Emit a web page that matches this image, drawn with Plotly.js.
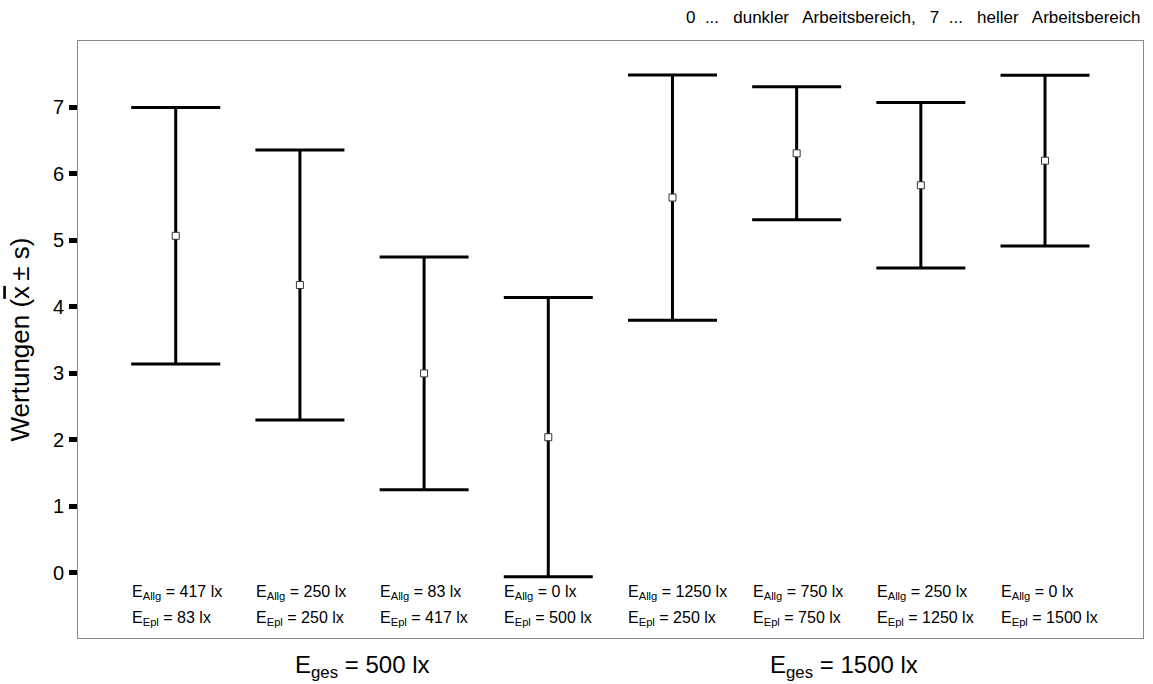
<!DOCTYPE html>
<html>
<head>
<meta charset="utf-8">
<script src="https://cdn.plot.ly/plotly-3.0.1.min.js"></script>
<style>
  html, body { margin: 0; padding: 0; background: #fff; }
  #chart { width: 1153px; height: 684px; }
</style>
</head>
<body>
<div id="chart"></div>
<script>
// Lighting conditions: position index, mean rating and standard deviation
var conditions = [1, 2, 3, 4, 5, 6, 7, 8];
var means = [5.07, 4.33, 3.00, 2.04, 5.645, 6.31, 5.83, 6.20];
var sds = [1.93, 2.03, 1.75, 2.10, 1.845, 1.00, 1.245, 1.285];

// General and workplace illuminance (lx) per condition
var eAllg = [417, 250, 83, 0, 1250, 750, 250, 0];
var eEpl = [83, 250, 417, 500, 250, 750, 1250, 1500];

// Total illuminance groups and where their labels sit along the condition axis
var groupTotals = [500, 1500];
var groupCenters = [2.5, 6.38];

var yTicks = [0, 1, 2, 3, 4, 5, 6, 7];
var scaleNote = '0  ...   dunkler   Arbeitsbereich,   7  ...   heller   Arbeitsbereich';

var FONT = 'Liberation Sans, Arial, Helvetica, sans-serif';

var trace = {
  x: conditions,
  y: means,
  type: 'scatter',
  mode: 'markers',
  marker: { symbol: 'square', size: 7, color: '#ffffff', line: { color: '#333333', width: 1 } },
  error_y: { type: 'data', array: sds, symmetric: true, color: '#000000', thickness: 3, width: 44.5 },
  hoverinfo: 'x+y',
  showlegend: false
};

var annotations = [];
conditions.forEach(function (c, i) {
  annotations.push({
    xref: 'x', yref: 'paper', x: c, y: 0.0754, xanchor: 'left', yanchor: 'middle', xshift: -46,
    text: 'E<sub>Allg</sub> = ' + eAllg[i] + ' lx', showarrow: false,
    font: { family: FONT, size: 16, color: '#000' }
  });
  annotations.push({
    xref: 'x', yref: 'paper', x: c, y: 0.0335, xanchor: 'left', yanchor: 'middle', xshift: -46,
    text: 'E<sub>Epl</sub> = ' + eEpl[i] + ' lx', showarrow: false,
    font: { family: FONT, size: 16, color: '#000' }
  });
});
groupTotals.forEach(function (t, i) {
  annotations.push({
    xref: 'x', yref: 'paper', x: groupCenters[i], y: -0.047, xanchor: 'center', yanchor: 'middle',
    text: 'E<sub>ges</sub> = ' + t + ' lx', showarrow: false,
    font: { family: FONT, size: 24, color: '#000' }
  });
});
annotations.push({
  xref: 'paper', yref: 'paper', x: 1, y: 1.04, xanchor: 'right', yanchor: 'middle',
  text: scaleNote, showarrow: false,
  font: { family: FONT, size: 17, color: '#000' }
});

var layout = {
  width: 1153,
  height: 684,
  margin: { l: 78, r: 10, t: 41, b: 46 },
  paper_bgcolor: '#ffffff',
  plot_bgcolor: '#ffffff',
  xaxis: {
    range: [0.213, 8.789],
    showgrid: false, zeroline: false, showticklabels: false, ticks: '',
    showline: true, mirror: true, linecolor: '#888888', linewidth: 1
  },
  yaxis: {
    range: [-0.98, 8.0],
    tickvals: yTicks,
    ticktext: yTicks.map(String),
    ticks: 'outside', ticklen: 8, tickwidth: 5, tickcolor: '#000000',
    ticklabelstandoff: 1,
    showgrid: false, zeroline: false,
    showline: true, mirror: true, linecolor: '#888888', linewidth: 1,
    tickfont: { family: FONT, size: 20, color: '#000' },
    title: {
      text: 'Wertungen (<span style="text-decoration:overline">x</span>\u2009\u00b1 s)',
      font: { family: FONT, size: 26, color: '#000' },
      standoff: 15
    }
  },
  annotations: annotations
};

Plotly.newPlot('chart', [trace], layout, { displayModeBar: false, staticPlot: true });
</script>
</body>
</html>
